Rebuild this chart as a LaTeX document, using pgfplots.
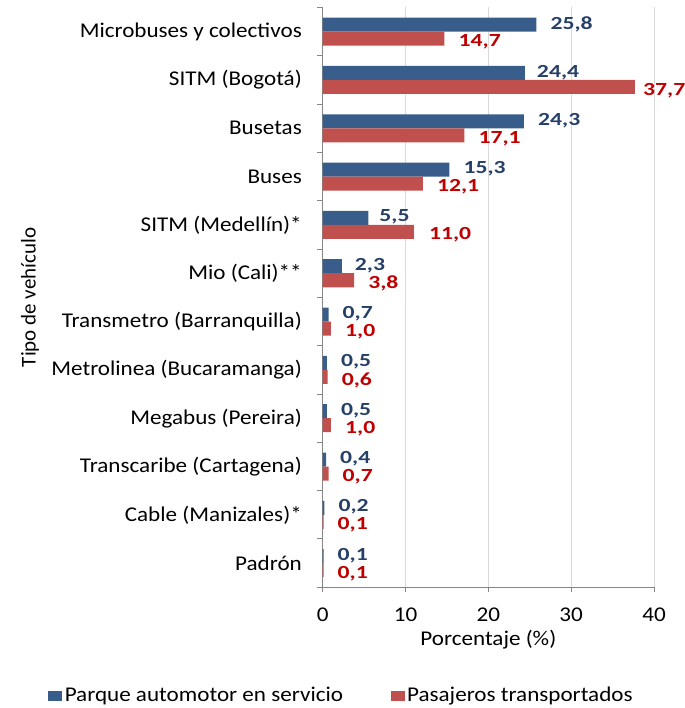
\documentclass[border=0pt]{standalone}
\usepackage{fontspec}
\setmainfont{Carlito}[FakeStretch=1.1]
\newfontfamily\plainfont{Carlito}
\newfontfamily\lblfont{Carlito}[FakeStretch=1.28]
\usepackage{pgfplots}
\usepackage{pgfplotstable}
\pgfplotsset{compat=1.18}
\definecolor{barblue}{RGB}{56,93,138}
\definecolor{barred}{RGB}{192,80,77}
\definecolor{lblblue}{RGB}{38,64,105}
\definecolor{lblred}{RGB}{192,0,0}
\definecolor{axgray}{RGB}{134,134,134}
\definecolor{gridgray}{RGB}{217,217,217}

\pgfplotstableread{
pos a b la lb dxa dxb
0 25.8 14.7 25,8 14,7 14 14
1 24.4 37.7 24,4 37,7 12 8
2 24.3 17.1 24,3 17,1 14 14
3 15.3 12.1 15,3 12,1 14 14
4 5.5 11.0 5,5 11,0 11 15
5 2.3 3.8 2,3 3,8 13 14
6 0.7 1.0 0,7 1,0 14 14
7 0.5 0.6 0,5 0,6 14 14
8 0.5 1.0 0,5 1,0 14 14
9 0.4 0.7 0,4 0,7 14 14
10 0.2 0.1 0,2 0,1 14 14
11 0.1 0.1 0,1 0,1 14 14
}\data

\begin{document}
\fontsize{21}{25}\selectfont
\begin{tikzpicture}
\path[use as bounding box] (0,0) rectangle (684pt,708pt);
\begin{axis}[
  at={(322.7pt,120.7pt)}, anchor=south west,
  scale only axis, width=331.3pt, height=579.8pt,
  xbar,
  xmin=0, xmax=40, ymin=-0.5, ymax=11.5, y dir=reverse,
  axis x line*=bottom, axis y line*=left,
  axis line style={axgray, line width=1pt},
  xtick={0,10,20,30,40},
  ytick={0,...,11},
  yticklabels={Microbuses y colectivos, SITM (Bogotá), Busetas, Buses, SITM (Medellín)*, Mio (Cali)**, Transmetro (Barranquilla), Metrolinea (Bucaramanga), Megabus (Pereira), Transcaribe (Cartagena), Cable (Manizales)*, Padrón},
  minor ytick={-0.5,0.5,...,11.5},
  major tick length=5pt, minor tick length=6pt,
  tick align=outside,
  major y tick style={draw=none},
  minor y tick style={axgray, line width=1pt},
  major x tick style={axgray, line width=1pt},
  xmajorgrids,
  major x grid style={gridgray, line width=1pt},
  xticklabel style={/pgf/number format/assume math mode=true, yshift=-8.7pt},
  yticklabel style={xshift=-8.7pt},
  xlabel={Porcentaje (\%)},
  ylabel={\plainfont Tipo de vehículo},
  every axis x label/.style={at={(axis description cs:0.5,-0.0905)}, anchor=center},
  every axis y label/.style={at={(axis description cs:-0.8835,0.5)}, anchor=center, rotate=90},
  legend image code/.code={\fill[#1,draw=none] (0pt,-5pt) rectangle (14pt,5pt);},
  legend style={at={(axis description cs:-0.829,-0.1875)}, anchor=west, draw=none, fill=none, inner sep=0pt, legend columns=2, /tikz/every even column/.append style={column sep=45pt}, nodes={inner sep=2.5pt}},
]
\addplot[xbar, bar width=0.29, bar shift=-0.145, fill=barblue, draw=none,
  point meta=explicit symbolic, nodes near coords,
  visualization depends on={\thisrow{dxa} \as \dxa},
  nodes near coords style={text=lblblue, font=\fontsize{18.5}{22}\lblfont\bfseries, anchor=west, inner sep=0pt, text depth=0pt, xshift=\dxa pt, yshift=2pt}]
  table[x=a, y=pos, meta=la]{\data};
\addplot[xbar, bar width=0.29, bar shift=0.145, fill=barred, draw=none,
  point meta=explicit symbolic, nodes near coords,
  visualization depends on={\thisrow{dxb} \as \dx},
  nodes near coords style={text=lblred, font=\fontsize{18.5}{22}\lblfont\bfseries, anchor=west, inner sep=0pt, text depth=0pt, xshift=\dx pt, yshift=-2pt}]
  table[x=b, y=pos, meta=lb]{\data};
\legend{Parque automotor en servicio, Pasajeros transportados}
\end{axis}
\end{tikzpicture}
\end{document}
